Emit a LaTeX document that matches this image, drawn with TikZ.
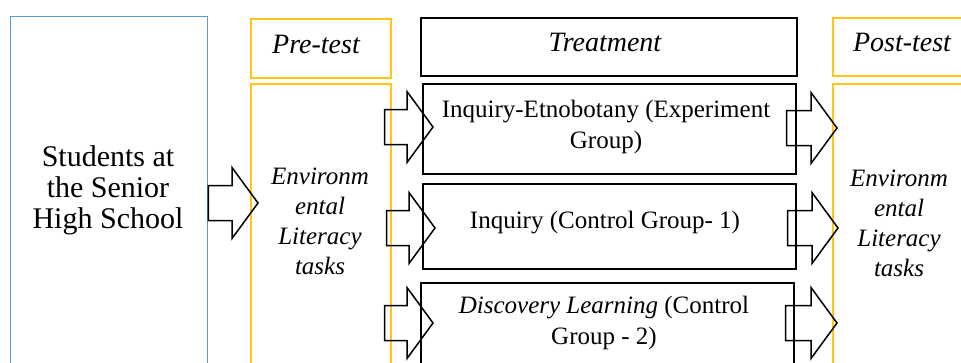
\documentclass[tikz,border=0pt]{standalone}
\usepackage{fontspec}
\setmainfont{Liberation Serif}
\usetikzlibrary{calc}
\definecolor{boxblue}{RGB}{91,155,213}
\definecolor{boxyellow}{RGB}{255,196,20}
\tikzset{
 bluebox/.style={draw=boxblue, line width=1.3pt, inner sep=0pt, anchor=north west},
 ybox/.style={draw=boxyellow, line width=1.6pt, inner sep=0pt, anchor=north west},
 kbox/.style={draw=black, line width=1.6pt, inner sep=0pt, anchor=north west},
 bigtxt/.style={font=\fontsize{30}{31}\selectfont, align=center},
 hdtxt/.style={font=\fontsize{28}{32}\selectfont\itshape},
 bodytxt/.style={font=\fontsize{25}{31}\selectfont, align=center},
 envtxt/.style={font=\fontsize{25}{30}\selectfont\itshape, align=center},
 blockarr/.style={draw=black, line width=1.5pt, line join=miter},
}
\newcommand\blockarrow[2]{%
 \draw[blockarr] ($(#1)+(0,-17.5)$) -- ($(#2)+(-26,-17.5)$) -- ($(#2)+(-26,-35.5)$) -- (#2) -- ($(#2)+(-26,35.5)$) -- ($(#2)+(-26,17.5)$) -- ($(#1)+(0,17.5)$) -- cycle;}
\begin{document}
\begin{tikzpicture}[x=1pt,y=-1pt]
\useasboundingbox (0,0) rectangle (961,362);
\clip (0,0) rectangle (961,362);
% left column
\node[bluebox, minimum width=197, minimum height=370] (students) at (10,16) {};
\node[bigtxt] (studtxt) at (108,190) {Students at\\the Senior\\High School};
% pre-test
\node[ybox, minimum width=140, minimum height=59] (pre) at (250,18) {};
\node[hdtxt] (pretxt) at (316,44) {Pre-test};
\node[ybox, minimum width=140, minimum height=300] (envL) at (250,83) {};
\node[envtxt] (envLtxt) at (320,221) {Environm\\ental\\Literacy\\tasks};
% treatment
\node[kbox, minimum width=376, minimum height=58] (treat) at (420,17) {};
\node[hdtxt] (treattxt) at (605,42) {Treatment};
\node[kbox, minimum width=373, minimum height=90] (t1) at (422,83) {};
\node[bodytxt] (t1txt) at (606,127) {Inquiry-Etnobotany (Experiment\\Group)};
\node[kbox, minimum width=373, minimum height=85] (t2) at (422,183) {};
\node[bodytxt] (t2txt) at (605,222.5) {Inquiry (Control Group- 1)};
\node[kbox, minimum width=373, minimum height=100] (t3) at (420,282) {};
\node[bodytxt] (t3txt) at (604,323) {\textit{Discovery Learning} (Control\\Group - 2)};
% post-test
\node[ybox, minimum width=150, minimum height=58] (post) at (832,17) {};
\node[hdtxt] (posttxt) at (902,42) {Post-test};
\node[ybox, minimum width=150, minimum height=300] (envR) at (832,83) {};
\node[envtxt] (envRtxt) at (899,223) {Environm\\ental\\Literacy\\tasks};
% arrows
\coordinate (a0s) at (students.east |- 0,203);
\coordinate (a0t) at ($(envL.west |- 0,203)+(8,0)$);
\blockarrow{a0s}{a0t}
\coordinate (a1s) at ($(envL.east |- 0,127)+(-7,0)$);
\coordinate (a1t) at ($(t1.west |- 0,127)+(11,0)$);
\blockarrow{a1s}{a1t}
\coordinate (a2s) at ($(envL.east |- 0,228)+(-5,0)$);
\coordinate (a2t) at ($(t2.west |- 0,228)+(13,0)$);
\blockarrow{a2s}{a2t}
\coordinate (a3s) at ($(envL.east |- 0,323)+(-7,0)$);
\coordinate (a3t) at ($(t3.west |- 0,323)+(13,0)$);
\blockarrow{a3s}{a3t}
\coordinate (b1s) at ($(t1.east |- 0,128)+(-10,0)$);
\coordinate (b1t) at ($(envR.west |- 0,128)+(5,0)$);
\blockarrow{b1s}{b1t}
\coordinate (b2s) at ($(t2.east |- 0,228)+(-9,0)$);
\coordinate (b2t) at ($(envR.west |- 0,228)+(6,0)$);
\blockarrow{b2s}{b2t}
\coordinate (b3s) at ($(t3.east |- 0,323)+(-9,0)$);
\coordinate (b3t) at ($(envR.west |- 0,323)+(5,0)$);
\blockarrow{b3s}{b3t}
\end{tikzpicture}
\end{document}
